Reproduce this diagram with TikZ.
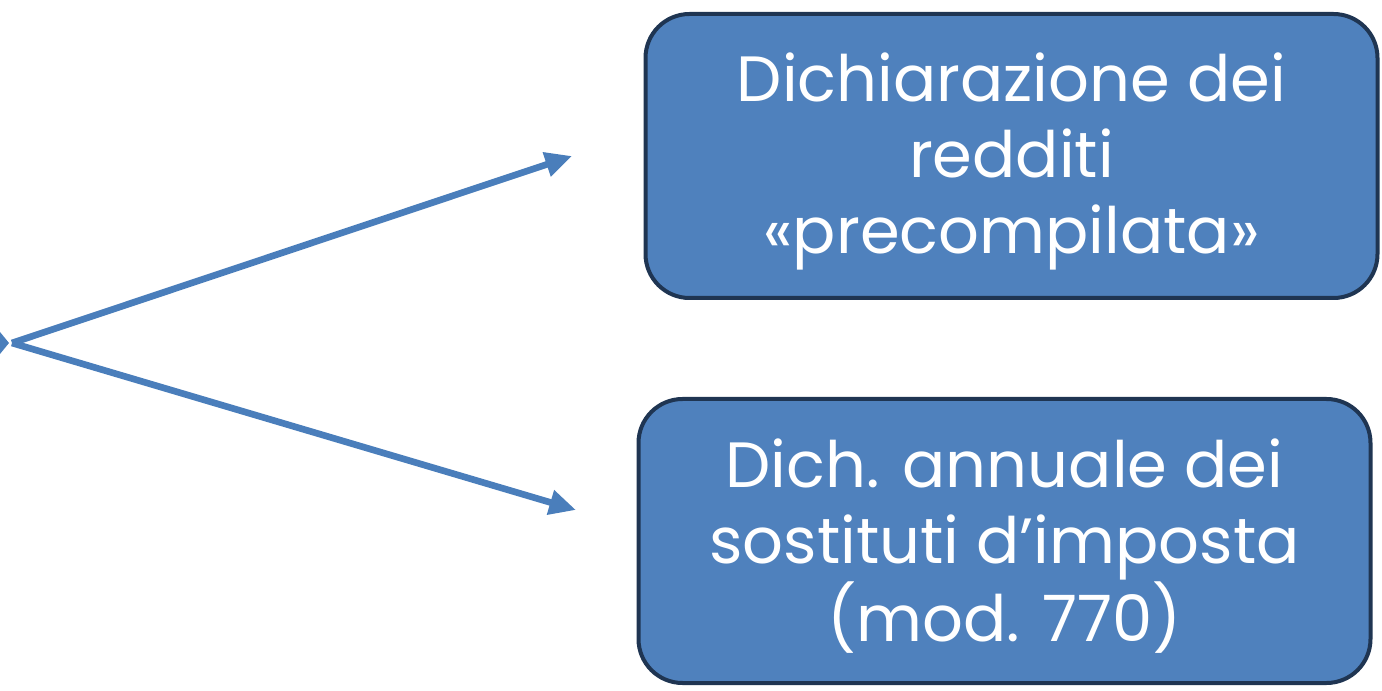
\documentclass[tikz,border=0pt]{standalone}
\usepackage{fontspec}
\setmainfont{Poppins}
\usetikzlibrary{arrows.meta}
\definecolor{boxblue}{HTML}{4F81BD}
\definecolor{boxline}{HTML}{1F3552}
\definecolor{arrowblue}{HTML}{4A7EBB}
\begin{document}
\begin{tikzpicture}[x=0.75pt,y=-0.75pt,
	box/.style={draw=boxline, fill=boxblue, line width=3pt, rounded corners=33pt,
		minimum width=549pt, minimum height=213pt},
	boxtext/.style={text=white, align=center, inner sep=0pt,
		font=\fontsize{48}{57}\selectfont},
	link/.style={draw=arrowblue, line width=5pt, -{Triangle[length=20pt,width=18pt]}}]
			\useasboundingbox (0,0) rectangle (1382,691);
			\node(precomp) [box] at (1011.5,156) {};
			\node(precompText) [boxtext] at ([yshift=-4pt]precomp.center) {Dichiarazione dei\\redditi\\«precompilata»};
			\node(sost) [box] at (1004.5,541) {};
			\node(sostText) [boxtext] at ([yshift=-4pt]sost.center) {Dich. annuale dei\\sostituti d’imposta\\(mod. 770)};
			\coordinate(src) at (12,343);
			\coordinate(endA) at (572,156);
			\coordinate(endB) at (576,510);

			\fill[arrowblue] (0,332) -- (9,343) -- (0,354) -- cycle;
			\draw[link](src) -- (endA);
			\draw[link](src) -- (endB);
		\end{tikzpicture}
\end{document}
